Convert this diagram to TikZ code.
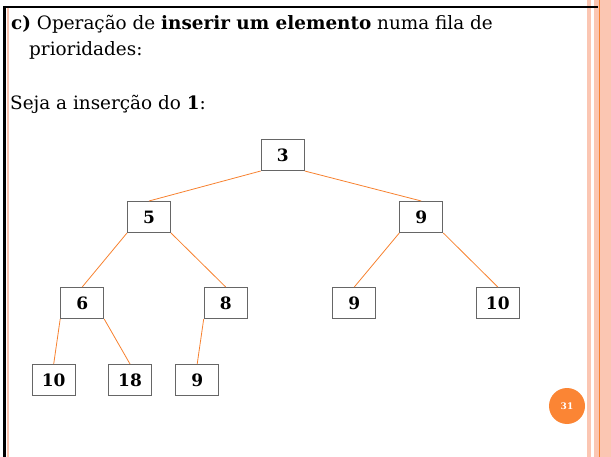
\documentclass[tikz,border=0pt]{standalone}
\usepackage{fontspec}
\setmainfont{DejaVu Serif}
\definecolor{edgeorange}{HTML}{F7812F}
\definecolor{pageorange}{HTML}{FB8534}
\definecolor{stripepink}{HTML}{FBC6B2}
\definecolor{boxgray}{HTML}{666666}
\begin{document}
\begin{tikzpicture}
            [x=1pt, y=-1pt,
             key/.style = {draw=boxgray, line width=1pt, minimum width=43pt, minimum height=31pt,
                           inner sep=0pt, font=\fontsize{17}{20}\selectfont\bfseries},
             branch/.style = {draw=edgeorange, line width=0.8pt},
             slidetext/.style = {anchor=base west, inner sep=0pt, font=\fontsize{18.4}{22}\selectfont}]
            \useasboundingbox (0,0) rectangle (611,457);
            % slide frame
            \fill[stripepink] (587,0) rectangle (591,457);
            \fill[stripepink] (594,0) rectangle (611,457);
            \draw[edgeorange, line width=0.8pt] (599,0) -- (599,457);
            \draw[stripepink, line width=2pt] (8.3,8) -- (8.3,457);
            \draw[black, line width=2.5pt] (4.5,6) -- (4.5,457);
            \draw[black, line width=2pt] (3.3,7) -- (598,7);
            % text
            \node[slidetext] (t1) at (11,29.5) {\textbf{c)} Operação de \textbf{inserir um elemento} numa fila de};
            \node[slidetext] (t2) at (29,56) {prioridades:};
            \node[slidetext] (t3) at (10,110) {Seja a inserção do \textbf{1}:};
            % heap
            \node[key] (1) at (282.7,155) {3};
            \node[key] (2) at (149,217) {5};
            \node[key] (3) at (421.3,217) {9};
            \node[key] (4) at (82.2,303) {6};
            \node[key] (5) at (225.7,303) {8};
            \node[key] (6) at (354.3,303) {9};
            \node[key] (7) at (497.8,303) {10};
            \node[key] (8) at (53.7,380) {10};
            \node[key] (9) at (130,380) {18};
            \node[key] (10) at (197.2,380) {9};
            \draw[branch] (1.south west) -- (2.north);
            \draw[branch] (1.south east) -- (3.north);
            \draw[branch] (2.south west) -- (4.north);
            \draw[branch] (2.south east) -- (5.north);
            \draw[branch] (3.south west) -- (6.north);
            \draw[branch] (3.south east) -- (7.north);
            \draw[branch] (4.south west) -- (8.north);
            \draw[branch] (4.south east) -- (9.north);
            \draw[branch] (5.south west) -- (10.north);
            % page number
            \node[circle, fill=pageorange, text=white, minimum size=36pt, inner sep=0pt,
                  font=\fontsize{9}{10}\selectfont\bfseries] (page) at (567,406) {31};
        \end{tikzpicture}
\end{document}
